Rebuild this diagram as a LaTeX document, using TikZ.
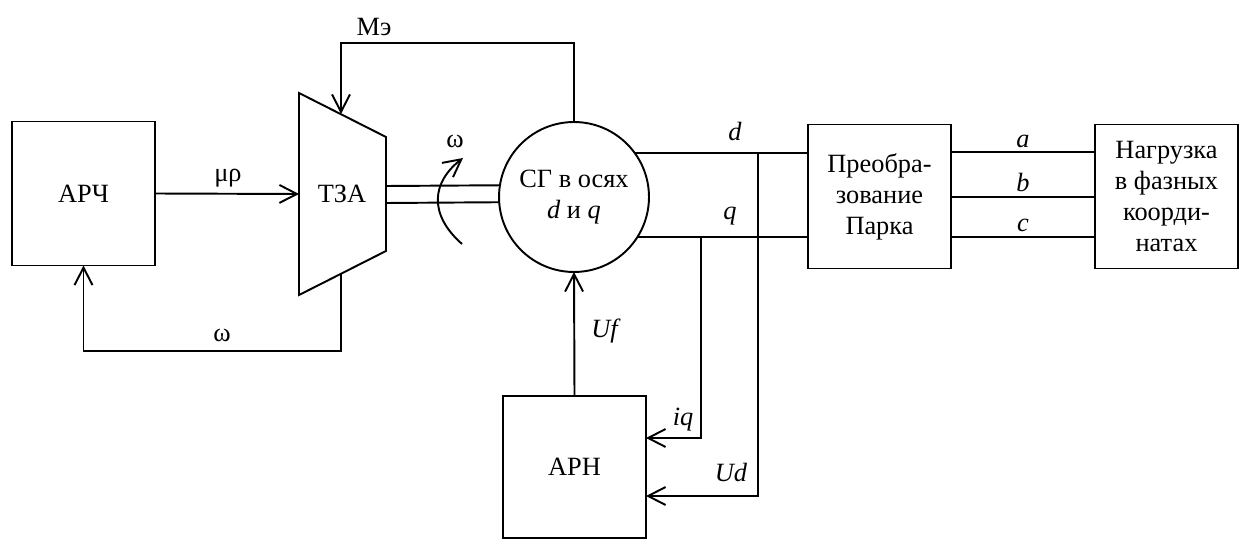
\documentclass[tikz,border=0pt]{standalone}
\usepackage{fontspec}
\setmainfont{Liberation Serif}
\usetikzlibrary{arrows.meta, positioning, calc}

\begin{document}
\begin{tikzpicture}[
    x=0.02cm, y=-0.02cm,
    every node/.style={font=\rmfamily\fontsize{15}{17.6}\selectfont, align=center, text=black},
    line/.style={line width=1.1pt, draw=black},
    arr/.style={line, -{Straight Barb[length=3.5mm, width=3.6mm]}},
    blockbox/.style={
      rectangle, draw=black, line width=1.1pt,
      fill=white, outer sep=0pt,
      minimum width=2.86cm, minimum height=2.88cm
    },
    genbox/.style={
      circle, draw=black, line width=1.1pt,
      outer sep=0pt, inner sep=0pt, minimum size=3.0cm
    },
    lbl/.style={inner sep=1pt}
  ]

    \useasboundingbox (0,0) rectangle (1239,540);

    % blocks
    \node[blockbox] (arch) at (83.5,193.5) {АРЧ};
    \node[genbox] (sg) at (574,197) {СГ в осях\\\textit{d} и \textit{q}};
    \node[blockbox] (park) at (879.5,196.5) {Преобра-\\зование\\Парка};
    \node[blockbox] (load) at (1166.5,196.5) {Нагрузка\\в фазных\\коорди-\\натах};
    \node[blockbox, minimum height=2.84cm] (arn) at (574.5,467) {АРН};

    % turbine (trapezoid)
    \coordinate (tzaTL) at (299,93);
    \coordinate (tzaTR) at (386,137);
    \coordinate (tzaBR) at (386,251);
    \coordinate (tzaBL) at (299,295);
    \draw[line] (tzaTL) -- (tzaTR) -- (tzaBR) -- (tzaBL) -- cycle;
    \node (tza) at (342,194) {ТЗА};
    \coordinate (tzaIn) at (299,194);
    \coordinate (tzaTop) at (341,114);
    \coordinate (tzaBot) at (341,274);

    % shaft
    \coordinate (shaftA) at (386,186);
    \coordinate (shaftB) at (386,203);
    \draw[line] (shaftA) -- (sg.171.6);
    \draw[line] (shaftB) -- (sg.184.6);
    \draw[arr] (462,244) .. controls (428,214) and (432,182) .. (463,158);
    \node[lbl] (wrot) at (455,141) {ω};

    % left loop
    \draw[arr] (arch.east) -- (tzaIn);
    \node[lbl] (mu) at (228,178) {μρ};
    \coordinate (wbot) at (341,351);
    \draw[arr] (tzaBot) -- (wbot) -| (arch.south);
    \node[lbl] (wlow) at (222,335) {ω};

    % torque feedback
    \coordinate (mtop) at (574,43);
    \draw[arr] (sg.north) -- (mtop) -| (tzaTop);
    \node[lbl] (me) at (374,27) {Мэ};

    % d, q outputs
    \draw[line] (sg.36) -- (sg.36 -| park.west);
    \draw[line] (sg.-32) -- (sg.-32 -| park.west);
    \node[lbl] (dl) at (735,131) {\textit{d}};
    \node[lbl] (ql) at (730,216) {\textit{q}};

    \coordinate (dj) at (758,153);
    \coordinate (qj) at (701,237);
    \draw[arr] (qj) |- ($(arn.east)+(0,-29)$);
    \draw[arr] (dj) |- ($(arn.east)+(0,29)$);
    \node[lbl] (iql) at (683,420) {\textit{iq}};
    \node[lbl] (udl) at (731,472) {\textit{Ud}};

    \draw[arr] (arn.north) -- (sg.south);
    \node[lbl] (ufl) at (606,331) {\textit{Uf}};

    % phase lines
    \draw[line] ($(park.east)+(0,-44.5)$) -- ($(load.west)+(0,-44.5)$);
    \draw[line] ($(park.east)+(0,0.5)$) -- ($(load.west)+(0,0.5)$);
    \draw[line] ($(park.east)+(0,40.5)$) -- ($(load.west)+(0,40.5)$);
    \node[lbl] (al) at (1023,141) {\textit{a}};
    \node[lbl] (bl) at (1023,182) {\textit{b}};
    \node[lbl] (cl) at (1023,225) {\textit{c}};

  \end{tikzpicture}
\end{document}
